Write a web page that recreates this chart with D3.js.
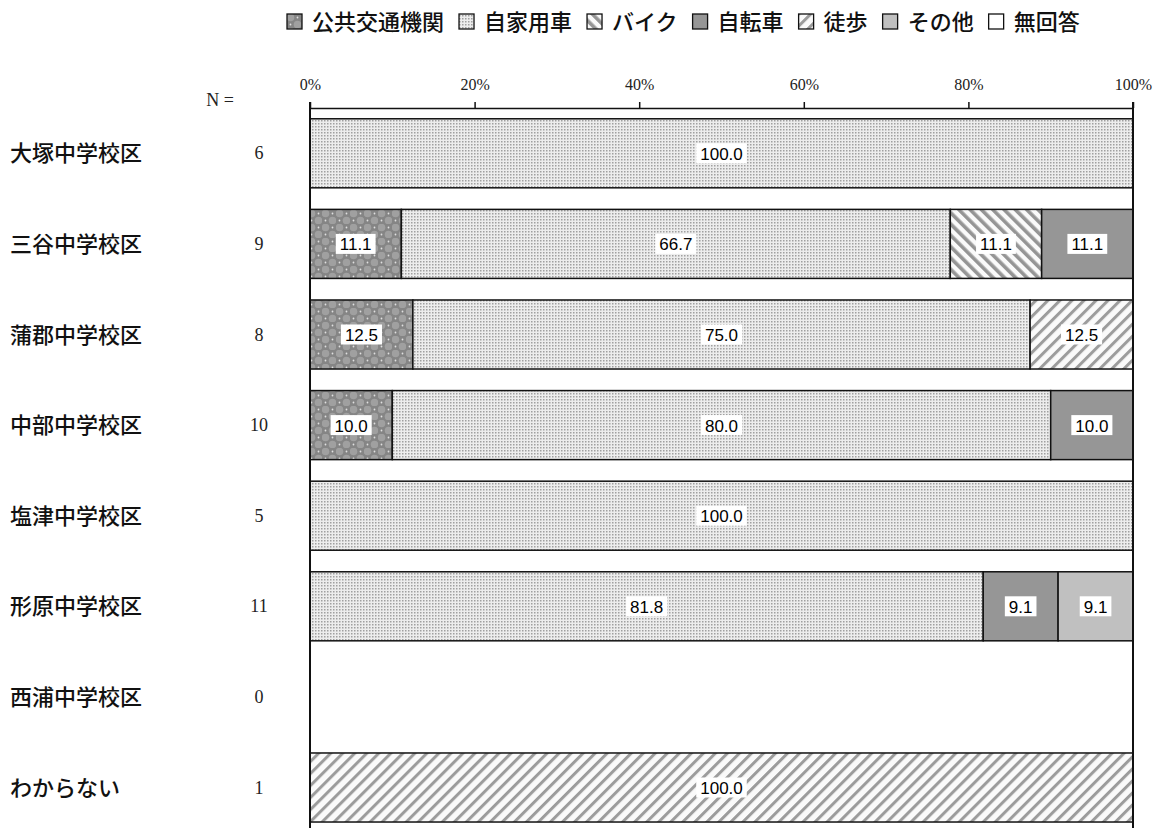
<!DOCTYPE html>
<html>
<head>
<meta charset="utf-8">
<script src="https://cdn.jsdelivr.net/npm/d3@7"></script>
<style>
  body { margin: 0; background: #fff; }
  svg { display: block; }
</style>
</head>
<body>
<script>
const categories = ['大塚中学校区', '三谷中学校区', '蒲郡中学校区', '中部中学校区', '塩津中学校区', '形原中学校区', '西浦中学校区', 'わからない'];
const counts = [6, 9, 8, 10, 5, 11, 0, 1];
const seriesNames = ['公共交通機関', '自家用車', 'バイク', '自転車', '徒歩', 'その他', '無回答'];
const publicTransit = [0, 11.1, 12.5, 10.0, 0, 0, 0, 0];
const privateCar = [100, 66.7, 75.0, 80.0, 100, 81.8, 0, 0];
const motorbike = [0, 11.1, 0, 0, 0, 0, 0, 0];
const bicycle = [0, 11.1, 0, 10.0, 0, 9.1, 0, 0];
const walking = [0, 0, 12.5, 0, 0, 0, 0, 100];
const other = [0, 0, 0, 0, 0, 9.1, 0, 0];
const noAnswer = [0, 0, 0, 0, 0, 0, 0, 0];
const tickValues = [0, 20, 40, 60, 80, 100];

const seriesValues = [publicTransit, privateCar, motorbike, bicycle, walking, other, noAnswer];

const width = 1157;
const height = 828;

const rows = categories.map((c, i) => {
    const r = { cat: c, n: counts[i] };
    seriesNames.forEach((s, j) => r[s] = seriesValues[j][i]);
    return r;
});

const svg = d3.select('body').append('svg')
    .attr('width', width)
    .attr('height', height);

// patterns
const defs = svg.append('defs');

const pt = defs.append('pattern')
    .attr('id', 'p0')
    .attr('patternUnits', 'userSpaceOnUse')
    .attr('width', 14).attr('height', 14);
pt.append('rect').attr('width', 14).attr('height', 14).attr('fill', '#858585');
[[3.5, 3.5], [10.5, 10.5]].forEach(p => {
    pt.append('circle').attr('cx', p[0]).attr('cy', p[1]).attr('r', 3.8).attr('fill', '#a0a0a0');
});
[[10.5, 3.5], [3.5, 10.5]].forEach(p => {
    pt.append('circle').attr('cx', p[0]).attr('cy', p[1]).attr('r', 0.9).attr('fill', '#e0e0e0');
});

const pc = defs.append('pattern')
    .attr('id', 'p1')
    .attr('patternUnits', 'userSpaceOnUse')
    .attr('width', 3).attr('height', 3);
pc.append('rect').attr('width', 3).attr('height', 3).attr('fill', '#ededed');
pc.append('rect').attr('width', 1.5).attr('height', 1.5).attr('fill', '#a0a0a0');

const pm = defs.append('pattern')
    .attr('id', 'p2')
    .attr('patternUnits', 'userSpaceOnUse')
    .attr('width', 8).attr('height', 8)
    .attr('patternTransform', 'rotate(-45)');
pm.append('rect').attr('width', 8).attr('height', 8).attr('fill', '#fafafa');
pm.append('rect').attr('width', 3.6).attr('height', 8).attr('fill', '#959595');

const pw = defs.append('pattern')
    .attr('id', 'p4')
    .attr('patternUnits', 'userSpaceOnUse')
    .attr('width', 8.5).attr('height', 8.5)
    .attr('patternTransform', 'rotate(45)');
pw.append('rect').attr('width', 8.5).attr('height', 8.5).attr('fill', '#fafafa');
pw.append('rect').attr('width', 3).attr('height', 8.5).attr('fill', '#9c9c9c');

const fills = ['url(#p0)', 'url(#p1)', 'url(#p2)', '#969696', 'url(#p4)', '#c0c0c0', '#ffffff'];

const x = d3.scaleLinear()
    .domain([0, 100])
    .range([310, 1133]);

const y = d3.scaleBand()
    .domain(categories)
    .range([108, 108 + 8 * 90.6])
    .paddingInner(0.238)
    .paddingOuter(0.119);

const stack = d3.stack().keys(seriesNames);
const layers = stack(rows);

// bars
const layerG = svg.selectAll('.layer')
    .data(layers)
  .enter().append('g')
    .attr('class', 'layer')
    .attr('fill', (d, i) => fills[i]);

layerG.selectAll('rect')
    .data(d => d.filter(s => s[1] - s[0] > 0))
  .enter().append('rect')
    .attr('x', d => x(d[0]))
    .attr('y', d => y(d.data.cat))
    .attr('width', d => x(d[1]) - x(d[0]))
    .attr('height', y.bandwidth())
    .attr('stroke', '#111')
    .attr('stroke-width', 1.5);

// value labels
const fmt = d3.format('.1f');
layers.forEach(layer => {
    layer.filter(s => s[1] - s[0] > 0).forEach(s => {
        const cx = x((s[0] + s[1]) / 2);
        const cy = y(s.data.cat) + y.bandwidth() / 2;
        const g = svg.append('g');
        const t = g.append('text')
            .attr('x', cx)
            .attr('y', cy + 6.5)
            .attr('text-anchor', 'middle')
            .style('font-family', '"Liberation Sans", Arial, sans-serif')
            .style('font-size', '17px')
            .attr('fill', '#000')
            .text(fmt(s[1] - s[0]));
        const bb = t.node().getBBox();
        g.insert('rect', 'text')
            .attr('x', bb.x - 4)
            .attr('y', cy - 10)
            .attr('width', bb.width + 8)
            .attr('height', 20)
            .attr('fill', '#fff');
    });
});

// top axis
const xAxis = d3.axisTop(x)
    .tickValues(tickValues)
    .tickSize(6)
    .tickSizeOuter(0)
    .tickFormat(d => d + '%');

const axG = svg.append('g')
    .attr('transform', 'translate(0,108)')
    .call(xAxis);
axG.select('.domain').attr('stroke', '#111').attr('stroke-width', 1.5);
axG.selectAll('.tick line').attr('stroke', '#111').attr('stroke-width', 1.5);
axG.selectAll('.tick text')
    .attr('y', -18)
    .style('font-family', '"Liberation Serif", "DejaVu Serif", serif')
    .style('font-size', '16px')
    .attr('fill', '#222');

// frame sides
svg.selectAll('.side')
    .data([0, 100])
  .enter().append('line')
    .attr('x1', d => x(d)).attr('x2', d => x(d))
    .attr('y1', 102).attr('y2', height)
    .attr('stroke', '#111')
    .attr('stroke-width', 2);

// category labels
svg.selectAll('.cat')
    .data(rows)
  .enter().append('text')
    .attr('x', 10)
    .attr('y', d => y(d.cat) + y.bandwidth() / 2 + 8)
    .style('font-family', '"Noto Sans CJK JP", sans-serif')
    .style('font-size', '22px')
    .style('font-weight', 500)
    .attr('fill', '#111')
    .text(d => d.cat);

// N values
svg.append('text')
    .attr('x', 220)
    .attr('y', 106)
    .attr('text-anchor', 'middle')
    .style('font-family', '"Liberation Serif", "DejaVu Serif", serif')
    .style('font-size', '18px')
    .attr('fill', '#222')
    .text('N =');

svg.selectAll('.n')
    .data(rows)
  .enter().append('text')
    .attr('x', 259)
    .attr('y', d => y(d.cat) + y.bandwidth() / 2 + 6)
    .attr('text-anchor', 'middle')
    .style('font-family', '"Liberation Serif", "DejaVu Serif", serif')
    .style('font-size', '18px')
    .attr('fill', '#222')
    .text(d => d.n);

// legend
const legend = svg.append('g').attr('transform', 'translate(287,0)');
let lx = 0;
seriesNames.forEach((s, i) => {
    const item = legend.append('g').attr('transform', `translate(${lx},0)`);
    item.append('rect')
        .attr('x', 0).attr('y', 14)
        .attr('width', 15).attr('height', 15)
        .attr('fill', fills[i])
        .attr('stroke', '#111')
        .attr('stroke-width', 1.3);
    const t = item.append('text')
        .attr('x', 25)
        .attr('y', 30)
        .style('font-family', '"Noto Sans CJK JP", sans-serif')
        .style('font-size', '22px')
        .style('font-weight', 500)
        .attr('fill', '#111')
        .text(s);
    lx += 25 + t.node().getComputedTextLength() + 15;
});
</script>
</body>
</html>
